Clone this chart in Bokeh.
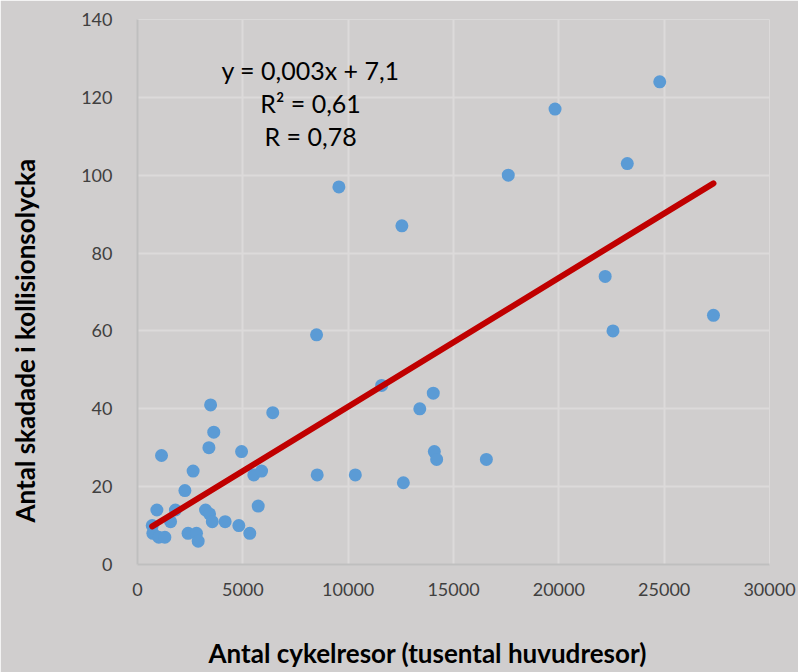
import numpy as np
from bokeh.plotting import figure
from bokeh.models import Range1d, Label, FixedTicker, ColumnDataSource, Title, LinearAxis
from bokeh.embed import file_html
from bokeh.resources import INLINE

# Data (thousand trips, injured)
trips = [700, 730, 1010, 1300, 920, 1140, 1570, 1800, 2250, 2400, 2640, 2800, 2880,
         3230, 3390, 3420, 3470, 3550, 3620, 4160, 4810, 4940, 5330, 5520, 5730, 5890,
         6420, 8500, 8530, 9560, 10340, 11590, 12550, 12620, 13400, 14040, 14090, 14200,
         16560, 17600, 19820, 22200, 22570, 23250, 24790, 27340]
injured = [10, 8, 7, 7, 14, 28, 11, 14, 19, 8, 24, 8, 6,
           14, 30, 13, 41, 11, 34, 11, 10, 29, 8, 23, 15, 24,
           39, 59, 23, 97, 23, 46, 87, 21, 40, 44, 29, 27,
           27, 100, 117, 74, 60, 103, 124, 64]
x_ticks = [0, 5000, 10000, 15000, 20000, 25000, 30000]
y_ticks = [0, 20, 40, 60, 80, 100, 120, 140]
eq_lines = ["y = 0,003x + 7,1", "R\u00b2 = 0,61", "R = 0,78"]
x_title = "Antal cykelresor (tusental huvudresor)"
y_title = "Antal skadade i kollisionsolycka"

BG = "#D0CECE"
FONT = "Lato"

p = figure(width=798, height=672, output_backend="svg", toolbar_location=None,
           x_range=Range1d(0, 30000), y_range=Range1d(0, 140),
           min_border_left=137, min_border_right=29, min_border_top=19, min_border_bottom=108)
p.background_fill_color = BG
p.border_fill_color = BG
p.outline_line_color = None

for ax, ticks in ((p.xaxis, x_ticks), (p.yaxis, y_ticks)):
    ax.ticker = FixedTicker(ticks=ticks)
    ax.major_tick_line_color = None
    ax.minor_tick_line_color = None
    ax.axis_line_color = "#BFBFBF"
    ax.axis_line_width = 2
    ax.major_label_text_font = FONT
    ax.major_label_text_font_size = "18px"
    ax.major_label_text_color = "#404040"
p.xaxis.major_label_standoff = 12
p.yaxis.major_label_standoff = 19

for g in (p.xgrid, p.ygrid):
    g.grid_line_color = "#DCDADA"
    g.grid_line_width = 2
p.xgrid.ticker = FixedTicker(ticks=x_ticks)
p.ygrid.ticker = FixedTicker(ticks=y_ticks)

src = ColumnDataSource(dict(x=trips, y=injured))
p.scatter("x", "y", source=src, size=13, fill_color="#5B9BD5", line_color=None)

# least-squares trend line
k, m = np.polyfit(np.array(trips, float), np.array(injured, float), 1)
xs = [min(trips), max(trips)]
p.line(xs, [k * v + m for v in xs], line_color="#C00000", line_width=6, line_cap="round")

# equation text
eq_x = 8215
eq_y = [127.1, 118.6, 110.1]
for t, yy in zip(eq_lines, eq_y):
    p.add_layout(Label(x=eq_x, y=yy, text=t, text_align="center", text_baseline="middle",
                       text_font=FONT, text_font_size="25px", text_color="#000000"))


def spacer(size):
    # invisible axis used only as padding between the tick labels and the axis title
    return LinearAxis(ticker=FixedTicker(ticks=[0]), major_label_overrides={0: ""},
                      axis_line_color=None, major_tick_line_color=None,
                      minor_tick_line_color=None, major_tick_out=size, major_tick_in=0,
                      major_label_standoff=0, major_label_text_font_size="1px")


# axis titles
p.add_layout(spacer(36), "below")
p.add_layout(Title(text=x_title, align="left", offset=71, vertical_align="bottom", standoff=0,
                   text_font=FONT, text_font_size="26px", text_font_style="bold",
                   text_color="#000000"), "below")
p.add_layout(spacer(37), "left")
p.add_layout(Title(text=y_title, align="left", offset=42, vertical_align="bottom", standoff=2,
                   text_font=FONT, text_font_size="26px", text_font_style="bold",
                   text_color="#000000"), "left")

open("out.html", "w").write(file_html(p, INLINE))
